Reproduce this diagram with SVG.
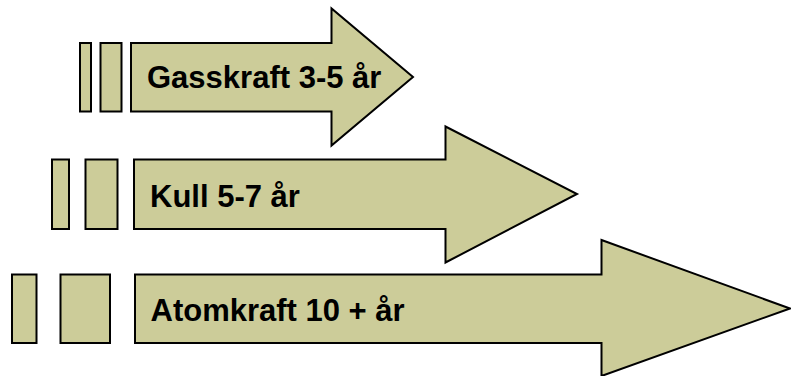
<svg xmlns="http://www.w3.org/2000/svg" width="791" height="376" viewBox="0 0 791 376">
<style>
.s{fill:#cccc99;stroke:#000;stroke-width:2;stroke-linejoin:miter}
.t{font-family:"Liberation Sans",Arial,sans-serif;font-weight:bold;font-size:31px;fill:#000}
</style>
<rect width="791" height="376" fill="#fff"/>
<g id="gasskraft">
<rect class="s" x="80" y="43" width="11" height="68.5"/>
<rect class="s" x="100.5" y="43" width="21" height="68.5"/>
<path class="s" d="M131,43 H331.5 V8.5 L413,77 L331.5,145.5 V111.5 H131 Z"/>
<text class="t" x="147" y="88">Gasskraft 3-5 år</text>
</g>
<g id="kull">
<rect class="s" x="52" y="159.5" width="17" height="69.5"/>
<rect class="s" x="85.5" y="159.5" width="32" height="69.5"/>
<path class="s" d="M134,159.5 H445.5 V126.5 L577,194 L445.5,262.5 V229 H134 Z"/>
<text class="t" x="150" y="206.5">Kull 5-7 år</text>
</g>
<g id="atomkraft">
<rect class="s" x="12" y="274.5" width="24.5" height="68.5"/>
<rect class="s" x="60.5" y="274.5" width="49.5" height="68.5"/>
<path class="s" d="M135,274.5 H601.5 V240 L790,308.5 L601.5,376 V343 H135 Z"/>
<text class="t" x="150.5" y="320.5">Atomkraft 10 + år</text>
</g>
<g id="connectors"/>
</svg>
